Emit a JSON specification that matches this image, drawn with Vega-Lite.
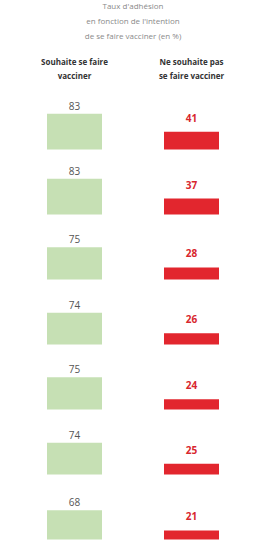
{
  "$schema": "https://vega.github.io/schema/vega-lite/v6.json",
  "padding": {"left": 16, "top": 3, "right": 5, "bottom": 0},
  "background": "white",
  "data": {"values": [
    {"row": 1, "group": "Souhaite se faire|vacciner", "value": 83},
    {"row": 1, "group": "Ne souhaite pas|se faire vacciner", "value": 41},
    {"row": 2, "group": "Souhaite se faire|vacciner", "value": 83},
    {"row": 2, "group": "Ne souhaite pas|se faire vacciner", "value": 37},
    {"row": 3, "group": "Souhaite se faire|vacciner", "value": 75},
    {"row": 3, "group": "Ne souhaite pas|se faire vacciner", "value": 28},
    {"row": 4, "group": "Souhaite se faire|vacciner", "value": 74},
    {"row": 4, "group": "Ne souhaite pas|se faire vacciner", "value": 26},
    {"row": 5, "group": "Souhaite se faire|vacciner", "value": 75},
    {"row": 5, "group": "Ne souhaite pas|se faire vacciner", "value": 24},
    {"row": 6, "group": "Souhaite se faire|vacciner", "value": 74},
    {"row": 6, "group": "Ne souhaite pas|se faire vacciner", "value": 25},
    {"row": 7, "group": "Souhaite se faire|vacciner", "value": 68},
    {"row": 7, "group": "Ne souhaite pas|se faire vacciner", "value": 21}
  ]},
  "title": {
    "text": ["Taux d'adhésion", "en fonction de l'intention", "de se faire vacciner (en %)"],
    "fontSize": 8, "color": "#8a8a8a", "font": "Open Sans", "fontWeight": "normal",
    "lineHeight": 15, "anchor": "middle", "offset": 17
  },
  "facet": {"row": {"field": "row", "type": "ordinal", "header": {"labels": false, "title": null}}},
  "spacing": 0,
  "spec": {
    "width": 234,
    "height": 64.5,
    "encoding": {
      "x": {
        "field": "group", "type": "nominal",
        "sort": ["Souhaite se faire|vacciner", "Ne souhaite pas|se faire vacciner"],
        "scale": {"paddingInner": 0, "paddingOuter": 0},
        "axis": {
          "orient": "top", "title": null, "domain": false, "ticks": false, "labelAngle": 0,
          "labelExpr": "split(datum.label, '|')",
          "labelFont": "Open Sans", "labelFontWeight": "bold", "labelFontSize": 8,
          "labelColor": "#333333", "labelLineHeight": 14, "labelPadding": 19
        }
      },
      "y": {"field": "value", "type": "quantitative", "scale": {"domain": [0, 150]}, "axis": null}
    },
    "layer": [
      {
        "mark": {"type": "bar", "width": 55},
        "encoding": {
          "color": {
            "field": "group", "type": "nominal",
            "sort": ["Souhaite se faire|vacciner", "Ne souhaite pas|se faire vacciner"],
            "scale": {"range": ["#c6e0b4", "#e2262e"]}, "legend": null
          }
        }
      },
      {
        "transform": [{"filter": "datum.group == 'Souhaite se faire|vacciner'"}],
        "mark": {"type": "text", "baseline": "bottom", "dy": -2, "font": "Open Sans", "fontSize": 10, "color": "#555555"},
        "encoding": {"text": {"field": "value", "type": "quantitative"}}
      },
      {
        "transform": [{"filter": "datum.group == 'Ne souhaite pas|se faire vacciner'"}],
        "mark": {"type": "text", "baseline": "bottom", "dy": -8, "font": "Open Sans", "fontSize": 10, "fontWeight": "bold", "color": "#d8262e"},
        "encoding": {"text": {"field": "value", "type": "quantitative"}}
      }
    ]
  },
  "config": {"view": {"stroke": null}}
}
